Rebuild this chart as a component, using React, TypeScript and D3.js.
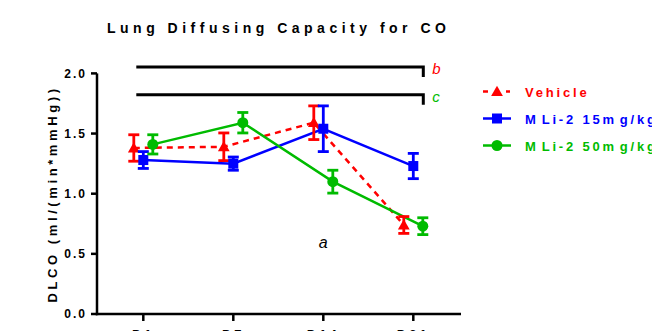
import React from "react";
import * as d3 from "d3";

const categories = ["D1", "D7", "D14", "D21"];
const vehicle = [1.38, 1.39, 1.59, 0.74];
const vehicleErr = [0.11, 0.115, 0.14, 0.07];
const mli15 = [1.28, 1.25, 1.54, 1.23];
const mli15Err = [0.07, 0.055, 0.19, 0.105];
const mli50 = [1.41, 1.59, 1.1, 0.73];
const mli50Err = [0.08, 0.085, 0.095, 0.07];
const yTicks = [0, 0.5, 1.0, 1.5, 2.0];
const seriesNames = ["Vehicle", "MLi-2 15mg/kg", "MLi-2 50mg/kg"];
const sigLabels = ["b", "c"];
const sigValues = [2.053, 1.823];
const annotLabel = "a";
const annotValue = 0.59;
const titleText = "Lung Diffusing Capacity for CO";
const yLabelText = "DLCO (ml/(min*mmHg))";

const W = 652;
const H = 331;
const FONT = "'Liberation Sans', Arial, sans-serif";

const RED = "#ff0000";
const BLUE = "#0000ff";
const GREEN = "#00bb00";

// GraphPad-like rendering: a little extra room after 'm'/'M'
function spaced(text: string, extra: number) {
  const chars = text.split("");
  return chars.map((ch, i) => {
    const prev = i > 0 ? chars[i - 1] : "";
    const dx = prev === "m" || prev === "M" ? extra : 0;
    return (
      <tspan key={i} dx={dx || undefined}>
        {ch}
      </tspan>
    );
  });
}

export default function App() {
  const y = d3.scaleLinear().domain([0, 2]).range([314, 73.4]);
  const x = d3.scalePoint<string>().domain(categories).range([143.3, 413.3]);
  const axisLeft = 97;
  const axisRight = 461;
  const axisBottom = y(0);

  const series = [
    { name: seriesNames[0], vals: vehicle, errs: vehicleErr, color: RED, shape: "tri", dash: "6,5", off: -9.5 },
    { name: seriesNames[1], vals: mli15, errs: mli15Err, color: BLUE, shape: "sq", dash: null, off: 0 },
    { name: seriesNames[2], vals: mli50, errs: mli50Err, color: GREEN, shape: "circ", dash: null, off: 9.5 },
  ];

  const marker = (shape: string, cx: number, cy: number, color: string, key: string) => {
    if (shape === "tri") {
      const s = d3.symbol(d3.symbolTriangle, 60)();
      return <path key={key} d={s || ""} transform={`translate(${cx},${cy + 1})`} fill={color} />;
    }
    if (shape === "sq") {
      return <rect key={key} x={cx - 5} y={cy - 5} width={10} height={10} fill={color} />;
    }
    return <circle key={key} cx={cx} cy={cy} r={5.5} fill={color} />;
  };

  const capW = 5.5;

  return (
    <svg width={W} height={H} style={{ position: "absolute", left: 0, top: 0, background: "#fff" }} fontFamily={FONT}>
      {/* title */}
      <text x={107} y={33} fontSize={14} fontWeight="bold" letterSpacing={4.5} fill="#000">
        {titleText}
      </text>

      {/* significance brackets */}
      {sigValues.map((v, i) => {
        const yy = y(v);
        const x0 = (x(categories[0]) as number) - 7;
        const x1 = (x(categories[3]) as number) + 10;
        return (
          <g key={"sig" + i}>
            <path d={`M${x0},${yy}H${x1}V${yy + 10}`} fill="none" stroke="#000" strokeWidth={3} />
            <text x={x1 + 9} y={yy + 7} fontSize={15} fontStyle="italic" fill={i === 0 ? RED : GREEN}>
              {sigLabels[i]}
            </text>
          </g>
        );
      })}

      {/* axes */}
      <line x1={axisLeft} x2={axisLeft} y1={y(2)} y2={axisBottom + 1.25} stroke="#000" strokeWidth={2.5} />
      <line x1={axisLeft - 1.25} x2={axisRight} y1={axisBottom} y2={axisBottom} stroke="#000" strokeWidth={2.5} />
      {yTicks.map((t) => (
        <g key={"yt" + t}>
          <line x1={axisLeft - 6} x2={axisLeft} y1={y(t)} y2={y(t)} stroke="#000" strokeWidth={2.5} />
          <text x={87} y={y(t) + 4.3} fontSize={12} fontWeight="bold" letterSpacing={2} textAnchor="end" fill="#000">
            {t.toFixed(1)}
          </text>
        </g>
      ))}
      {categories.map((c) => (
        <g key={"xt" + c}>
          <line x1={x(c)} x2={x(c)} y1={axisBottom} y2={axisBottom + 7} stroke="#000" strokeWidth={2.5} />
          <text x={x(c)} y={axisBottom + 25} fontSize={13} fontWeight="bold" letterSpacing={3} textAnchor="middle" fill="#000">
            {c}
          </text>
        </g>
      ))}

      {/* y label */}
      <text
        transform={`translate(57,194) rotate(-90)`}
        fontSize={13}
        fontWeight="bold"
        letterSpacing={3.6}
        textAnchor="middle"
        fill="#000"
      >
        {yLabelText}
      </text>

      {/* lines */}
      {series.map((s) => {
        const line = d3
          .line<number>()
          .x((_, i) => (x(categories[i]) as number) + s.off)
          .y((v) => y(v));
        return (
          <path
            key={"l" + s.name}
            d={line(s.vals) || ""}
            fill="none"
            stroke={s.color}
            strokeWidth={2.5}
            strokeDasharray={s.dash || undefined}
          />
        );
      })}

      {/* error bars + markers */}
      {series.map((s) => (
        <g key={"m" + s.name}>
          {s.vals.map((v, i) => {
            const cx = (x(categories[i]) as number) + s.off;
            const top = y(v + s.errs[i]);
            const bot = y(v - s.errs[i]);
            return (
              <g key={i}>
                <line x1={cx} x2={cx} y1={top} y2={bot} stroke={s.color} strokeWidth={2.8} />
                <line x1={cx - capW} x2={cx + capW} y1={top} y2={top} stroke={s.color} strokeWidth={2.8} />
                <line x1={cx - capW} x2={cx + capW} y1={bot} y2={bot} stroke={s.color} strokeWidth={2.8} />
                {marker(s.shape, cx, y(v), s.color, "mk")}
              </g>
            );
          })}
        </g>
      ))}

      {/* annotation */}
      <text x={x(categories[2]) as number} y={y(annotValue) + 5} fontSize={16} fontStyle="italic" textAnchor="middle" fill="#000">
        {annotLabel}
      </text>

      {/* legend */}
      {series.map((s, i) => {
        const ly = 91.5 + i * 27;
        return (
          <g key={"lg" + s.name}>
            {s.dash ? (
              <g>
                <line x1={483} x2={488} y1={ly} y2={ly} stroke={s.color} strokeWidth={2.5} />
                <line x1={506} x2={510} y1={ly} y2={ly} stroke={s.color} strokeWidth={2.5} />
              </g>
            ) : (
              <line x1={483} x2={511} y1={ly} y2={ly} stroke={s.color} strokeWidth={2.5} />
            )}
            {marker(s.shape, 497, ly, s.color, "lm")}
            <text x={525} y={ly + 5} fontSize={13} fontWeight="bold" letterSpacing={2.8} fill={s.color}>
              {spaced(s.name, 3)}
            </text>
          </g>
        );
      })}
    </svg>
  );
}
